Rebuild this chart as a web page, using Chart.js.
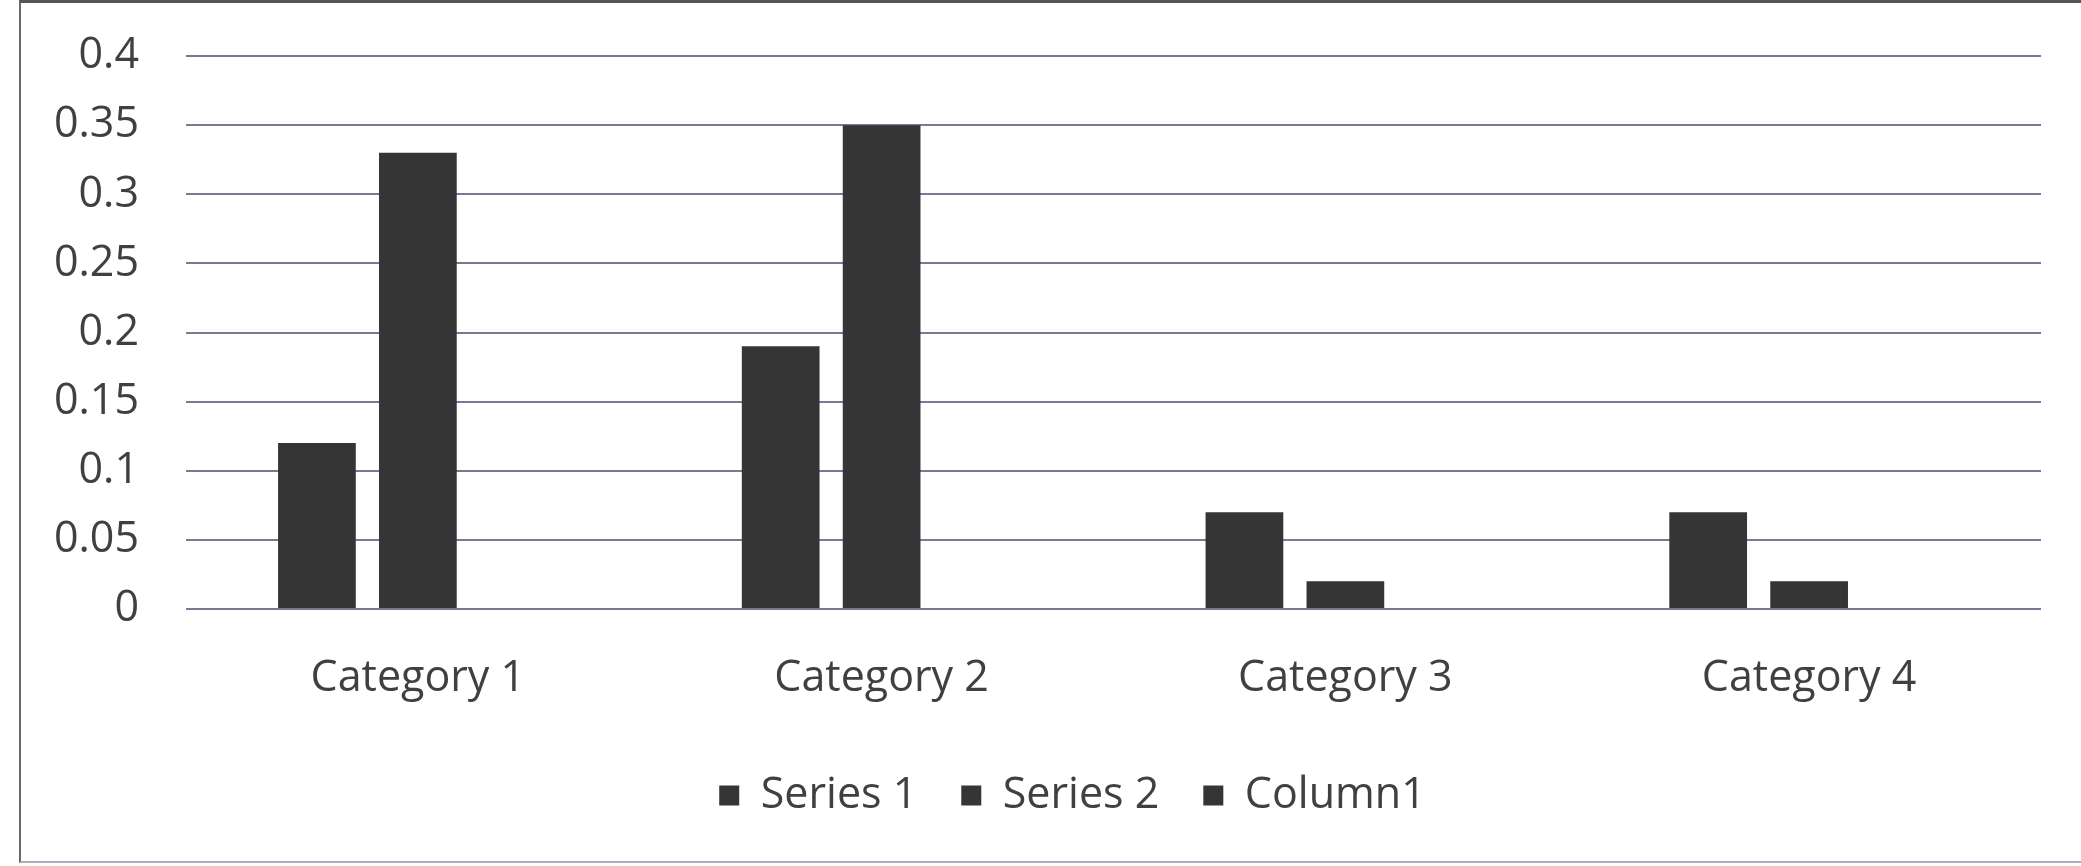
<!DOCTYPE html>
<html>
<head>
<meta charset="utf-8">
<script src="https://cdn.jsdelivr.net/npm/chart.js@4"></script>
<style>
  body { margin: 0; background: #fff; overflow: hidden; }
  #box { position: relative; width: 2081px; height: 866px; }
  #frame { position: absolute; left: 19px; top: 0; right: -10px; bottom: 3px;
           border-left: 2px solid #6a6a6a; border-top: 3px solid #555; border-bottom: 2px solid #a8b0bc; }
</style>
</head>
<body>
<div id="box">
  <div id="frame"></div>
  <canvas id="barChart"></canvas>
</div>
<script>
// categories along the x-axis
var categories = ["Category 1", "Category 2", "Category 3", "Category 4"];
// bar values
var series1 = [0.12, 0.19, 0.07, 0.07];
var series2 = [0.33, 0.35, 0.02, 0.02];
var column1 = [null, null, null, null];
// y ticks 0 .. 0.4
var yMin = 0;
var yMax = 0.4;
var yStep = 0.05;

var textColor = "#404040";
var barColor = "#353535";
var gridColor = "rgba(105,105,140,0.9)";
var font = { family: "'Open Sans', sans-serif", size: 43 };

var ctx = document.getElementById("barChart");
var myChart = new Chart(ctx, {
  type: 'bar',
  data: {
    labels: categories,
    datasets: [
      { label: "Series 1", data: series1, backgroundColor: barColor },
      { label: "Series 2", data: series2, backgroundColor: barColor },
      { label: "Column1", data: column1, backgroundColor: barColor }
    ]
  },
  options: {
    responsive: true,
    maintainAspectRatio: false,
    animation: false,
    categoryPercentage: 0.653,
    barPercentage: 0.77,
    // negative right padding + empty right axis: keeps the plot edge and centres the legend like the original
    layout: { padding: { left: 0, right: -64, top: 56, bottom: 39 } },
    plugins: {
      tooltip: { enabled: false },
      legend: {
        position: 'bottom',
        labels: {
          color: textColor,
          font: font,
          boxWidth: 20,
          boxHeight: 20,
          padding: 44
        }
      }
    },
    scales: {
      x: {
        grid: { display: false, drawTicks: false },
        border: { display: false },
        ticks: { color: textColor, font: font, padding: 44 },
        afterFit: function (scale) { scale.height = 121; }
      },
      y: {
        min: yMin,
        max: yMax,
        grid: { color: gridColor, lineWidth: 2, drawTicks: false },
        border: { display: false },
        ticks: {
          stepSize: yStep, color: textColor, padding: 47,
          // small lineHeight so the label box does not push the plot top down
          font: { family: font.family, size: font.size, lineHeight: 0.4 },
          callback: function (value) { return String(+value.toFixed(2)); }
        },
        afterFit: function (scale) { scale.width = 186; }
      },
      yRight: {
        position: 'right',
        grid: { display: false, drawTicks: false },
        border: { display: false },
        ticks: { display: false },
        afterFit: function (scale) { scale.width = 104; }
      }
    }
  }
});
</script>
</body>
</html>
